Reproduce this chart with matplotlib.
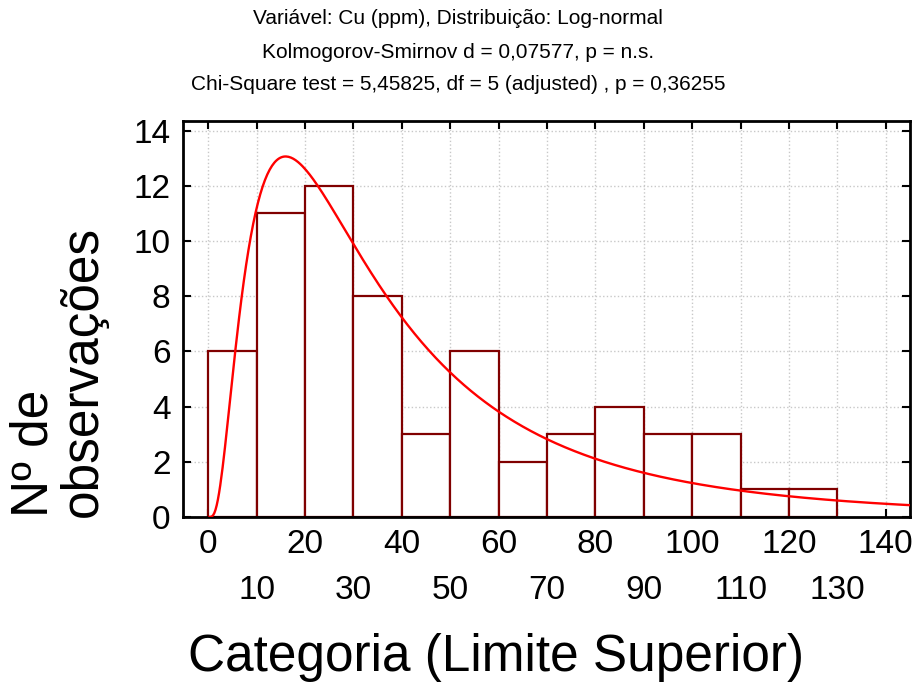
import numpy as np
import matplotlib.pyplot as plt

plt.rcParams['font.family'] = ['Liberation Sans', 'DejaVu Sans']

# histogram: lower edges of 10 ppm classes and counts
bin_left = [0, 10, 20, 30, 40, 50, 60, 70, 80, 90, 100, 110, 120]
counts = [6, 11, 12, 8, 3, 6, 2, 3, 4, 3, 3, 1, 1]
bin_width = 10

# fitted log-normal (Statistica fit), scaled to counts
mu = 3.483
sigma = 0.843
n_obs = sum(counts)

titles = ['Variável: Cu (ppm), Distribuição: Log-normal',
          'Kolmogorov-Smirnov d = 0,07577, p = n.s.',
          'Chi-Square test = 5,45825, df = 5 (adjusted) , p = 0,36255']

fig = plt.figure(figsize=(9.16, 6.84), dpi=100)
ax = fig.add_axes([0.1998, 0.2442, 0.7936, 0.5789])

ax.set_axisbelow(True)
ax.grid(True, linestyle=':', color='#c8c8c8', linewidth=1.0)

ax.bar(bin_left, counts, width=bin_width, align='edge',
       facecolor='white', edgecolor='#800000', linewidth=1.6, zorder=2)

x = np.linspace(0.3, 146, 600)
pdf = np.exp(-(np.log(x) - mu) ** 2 / (2 * sigma ** 2)) / (x * sigma * np.sqrt(2 * np.pi))
ax.plot(x, pdf * n_obs * bin_width, color='red', linewidth=1.7, zorder=3)

ax.set_xlim(-5.2, 145)
ax.set_ylim(0, 14.35)

ax.set_xticks(np.arange(0, 141, 20))
ax.set_xticks(np.arange(10, 131, 20), minor=True)
ax.set_xticklabels([str(v) for v in range(0, 141, 20)], fontsize=24)
ax.set_xticklabels([str(v) for v in range(10, 131, 20)], minor=True, fontsize=24)
ax.set_yticks(np.arange(0, 15, 2))
ax.grid(True, which='minor', axis='x', linestyle=':', color='#c8c8c8', linewidth=1.0)

ax.tick_params(axis='both', which='both', direction='in', length=6, width=1.5,
               top=True, right=True, labelsize=24)
ax.tick_params(axis='x', which='major', pad=9)
ax.tick_params(axis='x', which='minor', pad=42)
ax.tick_params(axis='y', pad=9)

for s in ax.spines.values():
    s.set_linewidth(2)

for i, t in enumerate(titles):
    fig.text(0.5, 1 - (19 + 33 * i) / 684, t, ha='center', va='center', fontsize=15)

fig.text(496 / 916, 1 - 657 / 684, 'Categoria (Limite Superior)', ha='center', va='center', fontsize=37)
fig.text(59 / 916, 1 - 517 / 684, 'Nº de\nobservações', rotation=90, ha='center', va='bottom',
         multialignment='left', fontsize=37, linespacing=1.0)

fig.savefig('out.png', dpi=100)
